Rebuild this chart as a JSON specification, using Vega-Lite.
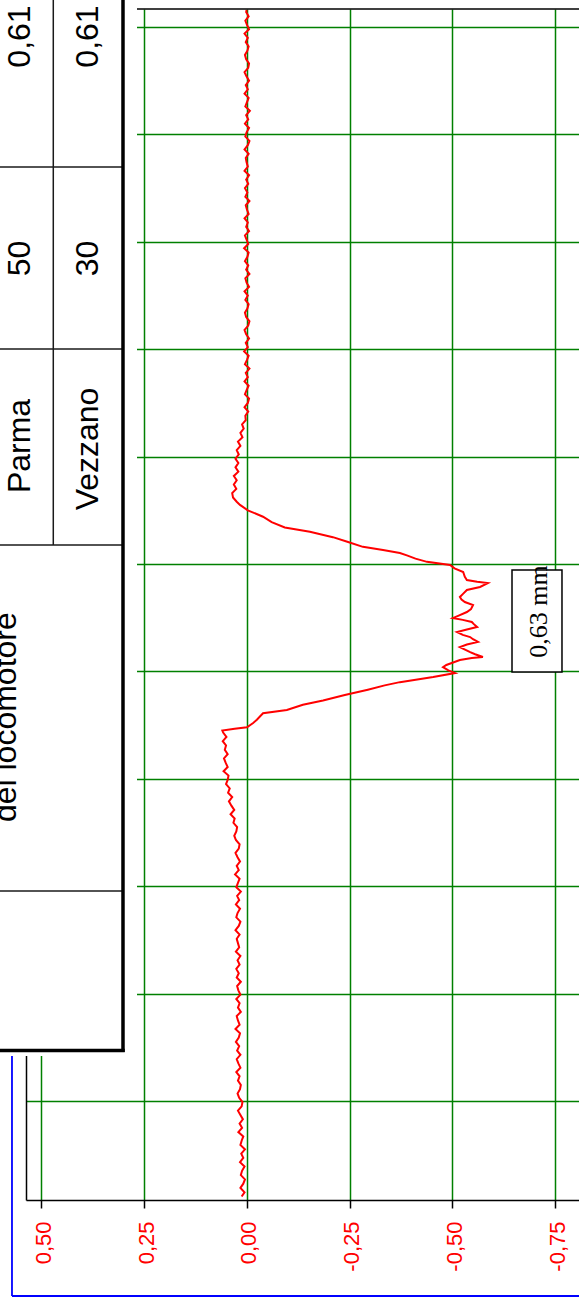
{
  "$schema": "https://vega.github.io/schema/vega-lite/v6.json",
  "width": 553,
  "height": 1191,
  "autosize": {"type": "none"},
  "padding": {"left": 26, "top": 9, "right": 0, "bottom": 103},
  "background": "white",
  "config": {"view": {"stroke": null}},
  "datasets": {
    "trace": [
      {"d":-89,"v":0.013},{"d":-85,"v":0.006},{"d":-81,"v":0.016},{"d":-77,"v":0.009},{"d":-73,"v":0.005},{"d":-69,"v":0.015},{"d":-65,"v":0.012},{"d":-61,"v":0.006},{"d":-57,"v":0.017},{"d":-53,"v":0.009},
      {"d":-49,"v":0.014},{"d":-45,"v":0.005},{"d":-41,"v":0.016},{"d":-37,"v":0.013},{"d":-33,"v":0.009},{"d":-29,"v":0.021},{"d":-25,"v":0.012},{"d":-21,"v":0.018},{"d":-17,"v":0.010},{"d":-13,"v":0.016},
      {"d":-9,"v":0.022},{"d":-5,"v":0.013},{"d":-1,"v":0.011},{"d":3,"v":0.019},{"d":7,"v":0.023},{"d":11,"v":0.017},{"d":15,"v":0.015},{"d":19,"v":0.022},{"d":23,"v":0.018},{"d":27,"v":0.026},
      {"d":31,"v":0.016},{"d":35,"v":0.021},{"d":39,"v":0.025},{"d":43,"v":0.016},{"d":47,"v":0.024},{"d":51,"v":0.019},{"d":55,"v":0.027},{"d":59,"v":0.020},{"d":63,"v":0.017},{"d":67,"v":0.028},
      {"d":71,"v":0.018},{"d":75,"v":0.022},{"d":79,"v":0.025},{"d":83,"v":0.015},{"d":87,"v":0.022},{"d":91,"v":0.018},{"d":95,"v":0.026},{"d":99,"v":0.016},{"d":103,"v":0.021},{"d":107,"v":0.024},
      {"d":111,"v":0.015},{"d":115,"v":0.025},{"d":119,"v":0.020},{"d":123,"v":0.026},{"d":127,"v":0.018},{"d":131,"v":0.023},{"d":135,"v":0.016},{"d":139,"v":0.027},{"d":143,"v":0.019},{"d":147,"v":0.022},
      {"d":151,"v":0.025},{"d":155,"v":0.018},{"d":159,"v":0.028},{"d":163,"v":0.020},{"d":167,"v":0.016},{"d":171,"v":0.026},{"d":175,"v":0.023},{"d":179,"v":0.017},{"d":183,"v":0.027},{"d":187,"v":0.019},
      {"d":191,"v":0.024},{"d":195,"v":0.015},{"d":199,"v":0.026},{"d":203,"v":0.022},{"d":207,"v":0.018},{"d":211,"v":0.029},{"d":215,"v":0.020},{"d":219,"v":0.025},{"d":223,"v":0.017},{"d":227,"v":0.023},
      {"d":231,"v":0.028},{"d":235,"v":0.020},{"d":239,"v":0.018},{"d":243,"v":0.027},{"d":247,"v":0.031},{"d":251,"v":0.026},{"d":255,"v":0.024},{"d":259,"v":0.033},{"d":263,"v":0.030},{"d":267,"v":0.040},
      {"d":271,"v":0.031},{"d":275,"v":0.038},{"d":279,"v":0.044},{"d":283,"v":0.036},{"d":287,"v":0.046},{"d":291,"v":0.042},{"d":295,"v":0.051},{"d":299,"v":0.047},{"d":303,"v":0.045},{"d":307,"v":0.057},
      {"d":311,"v":0.047},{"d":315,"v":0.052},{"d":319,"v":0.056},{"d":323,"v":0.047},{"d":327,"v":0.054},{"d":331,"v":0.051},{"d":335,"v":0.059},{"d":339,"v":0.050},{"d":343,"v":0.058},{"d":345,"v":0.060},
      {"d":346.5,"v":0.030},{"d":348,"v":0.000},{"d":352,"v":-0.015},{"d":355,"v":-0.024},{"d":361,"v":-0.039},{"d":364,"v":-0.097},{"d":369,"v":-0.136},{"d":373,"v":-0.185},{"d":378,"v":-0.238},{"d":383,"v":-0.294},
      {"d":387,"v":-0.335},{"d":390,"v":-0.372},{"d":394.8,"v":-0.453},{"d":398.5,"v":-0.506},{"d":401,"v":-0.490},{"d":404,"v":-0.477},{"d":406,"v":-0.485},{"d":410.6,"v":-0.518},{"d":412.5,"v":-0.547},{"d":413.4,"v":-0.574},
      {"d":416,"v":-0.555},{"d":418,"v":-0.543},{"d":422.7,"v":-0.518},{"d":425,"v":-0.535},{"d":427.4,"v":-0.562},{"d":430,"v":-0.550},{"d":432,"v":-0.543},{"d":434,"v":-0.525},{"d":436.7,"v":-0.511},{"d":439,"v":-0.535},
      {"d":441.3,"v":-0.560},{"d":444,"v":-0.552},{"d":446,"v":-0.547},{"d":448,"v":-0.525},{"d":449.7,"v":-0.501},{"d":452,"v":-0.515},{"d":455.3,"v":-0.535},{"d":458,"v":-0.545},{"d":461.8,"v":-0.550},{"d":464.6,"v":-0.530},
      {"d":467,"v":-0.522},{"d":469.3,"v":-0.518},{"d":472,"v":-0.525},{"d":475.8,"v":-0.535},{"d":478.6,"v":-0.567},{"d":482.3,"v":-0.586},{"d":483.5,"v":-0.560},{"d":485.1,"v":-0.535},{"d":488,"v":-0.530},{"d":492.6,"v":-0.526},
      {"d":496,"v":-0.505},{"d":499.1,"v":-0.494},{"d":502,"v":-0.438},{"d":505,"v":-0.410},{"d":508,"v":-0.389},{"d":510.2,"v":-0.372},{"d":513,"v":-0.331},{"d":516,"v":-0.282},{"d":520.5,"v":-0.246},{"d":525,"v":-0.209},
      {"d":530,"v":-0.153},{"d":534,"v":-0.092},{"d":539,"v":-0.060},{"d":544,"v":-0.039},{"d":550,"v":-0.002},{"d":555,"v":0.017},{"d":558,"v":0.025},{"d":562,"v":0.034},
      {"d":566,"v":0.036},{"d":570,"v":0.026},{"d":574,"v":0.032},{"d":578,"v":0.025},{"d":582,"v":0.032},{"d":586,"v":0.021},{"d":590,"v":0.028},{"d":594,"v":0.021},{"d":598,"v":0.028},{"d":602,"v":0.020},
      {"d":606,"v":0.025},{"d":610,"v":0.016},{"d":614,"v":0.022},{"d":618,"v":0.011},{"d":622,"v":0.016},{"d":626,"v":0.008},{"d":630,"v":0.012},{"d":634,"v":0.003},
      {"d":638,"v":0.004},{"d":642,"v":-0.003},{"d":646,"v":0.006},{"d":650,"v":-0.002},{"d":654,"v":-0.005},{"d":658,"v":0.005},{"d":662,"v":0.001},{"d":666,"v":-0.004},{"d":670,"v":0.006},{"d":674,"v":-0.002},
      {"d":678,"v":0.003},{"d":682,"v":-0.006},{"d":686,"v":0.005},{"d":690,"v":0.000},{"d":694,"v":-0.004},{"d":698,"v":0.007},{"d":702,"v":-0.002},{"d":706,"v":0.003},{"d":710,"v":-0.005},{"d":714,"v":0.002},
      {"d":718,"v":0.006},{"d":722,"v":-0.003},{"d":726,"v":-0.006},{"d":730,"v":0.002},{"d":734,"v":0.005},{"d":738,"v":-0.001},{"d":742,"v":-0.004},{"d":746,"v":0.004},{"d":750,"v":-0.002},{"d":754,"v":0.006},
      {"d":758,"v":-0.005},{"d":762,"v":0.001},{"d":766,"v":0.004},{"d":770,"v":-0.006},{"d":774,"v":0.002},{"d":778,"v":-0.003},{"d":782,"v":0.005},{"d":786,"v":-0.001},{"d":790,"v":-0.004},{"d":794,"v":0.007},
      {"d":798,"v":-0.003},{"d":802,"v":0.001},{"d":806,"v":0.005},{"d":810,"v":-0.005},{"d":814,"v":0.002},{"d":818,"v":-0.002},{"d":822,"v":0.006},{"d":826,"v":-0.004},{"d":830,"v":0.000},{"d":834,"v":0.003},
      {"d":838,"v":-0.006},{"d":842,"v":0.004},{"d":846,"v":-0.001},{"d":850,"v":0.005},{"d":854,"v":-0.003},{"d":858,"v":0.002},{"d":862,"v":-0.005},{"d":866,"v":0.006},{"d":870,"v":-0.002},{"d":874,"v":0.001},
      {"d":878,"v":0.003},{"d":882,"v":-0.004},{"d":886,"v":0.006},{"d":890,"v":-0.002},{"d":894,"v":-0.006},{"d":898,"v":0.004},{"d":902,"v":0.001},{"d":906,"v":-0.005},{"d":910,"v":0.005},{"d":914,"v":-0.003},
      {"d":918,"v":0.002},{"d":922,"v":-0.007},{"d":926,"v":0.004},{"d":930,"v":0.000},{"d":934,"v":-0.004},{"d":938,"v":0.006},{"d":942,"v":-0.002},{"d":946,"v":0.003},{"d":950,"v":-0.005},{"d":954,"v":0.001},
      {"d":958,"v":0.006},{"d":962,"v":-0.003},{"d":966,"v":-0.005},{"d":970,"v":0.002},{"d":974,"v":0.005},{"d":978,"v":-0.001},{"d":982,"v":-0.004},{"d":986,"v":0.003},{"d":990,"v":-0.002},{"d":994,"v":0.006},
      {"d":998,"v":-0.005},{"d":1002,"v":0.000},{"d":1006,"v":0.004},{"d":1010,"v":-0.004},{"d":1014,"v":0.002},{"d":1016,"v":0.001}
    ],
    "frame": [{"v":0.5377,"v2":-0.85,"d":1016.8,"d2":1016.8}],
    "blue": [
      {"v":0.5718,"v2":0.5718,"d":45,"d2":-181.6},
      {"v":0.5718,"v2":-0.85,"d":-181.6,"d2":-181.6}
    ],
    "cover": [{"v":0.62,"v2":0.2676,"d":1030,"d2":41.9}],
    "thin": [
      {"v":0.61,"v2":0.3017,"d":869.6,"d2":869.6},
      {"v":0.61,"v2":0.3017,"d":700.2,"d2":700.2},
      {"v":0.61,"v2":0.3017,"d":517.7,"d2":517.7},
      {"v":0.61,"v2":0.3017,"d":195.5,"d2":195.5},
      {"v":0.4713,"v2":0.4713,"d":1030,"d2":517.7}
    ],
    "thick": [
      {"v":0.3017,"v2":0.3017,"d":1030,"d2":45.5},
      {"v":0.61,"v2":0.2975,"d":47.0,"d2":47.0}
    ],
    "labels": [
      {"v":0.5511,"d":991.2,"t":"0,61"},
      {"v":0.3869,"d":991.2,"t":"0,61"},
      {"v":0.5511,"d":784.5,"t":"50"},
      {"v":0.3869,"d":784.5,"t":"30"},
      {"v":0.5511,"d":609.9,"t":"Parma"},
      {"v":0.3869,"d":607.1,"t":"Vezzano"},
      {"v":0.5871,"d":357.4,"t":"del locomotore"}
    ],
    "box": [{"v":-0.6448,"v2":-0.7664,"d":494.4,"d2":399.4}],
    "note": [{"v":-0.7299,"d":455.8,"t":"0,63 mm"}]
  },
  "layer": [
    {
      "data": {"name": "trace"},
      "mark": {"type": "line", "color": "#ff0000", "strokeWidth": 2},
      "encoding": {
        "x": {
          "field": "v", "type": "quantitative",
          "scale": {"domain": [-0.8078, 0.5377], "reverse": true, "nice": false, "zero": false},
          "axis": {
            "title": null,
            "values": [0.5, 0.25, 0, -0.25, -0.5, -0.75],
            "labelExpr": "(datum.value < 0 ? '-' : '') + replace(format(abs(datum.value), '.2f'), '.', ',')",
            "labelAngle": 270,
            "labelFont": "Liberation Sans",
            "labelFontSize": 22,
            "labelColor": "#ff0000",
            "labelPadding": 13,
            "labelOffset": 2,
            "labelFlush": false,
            "labelOverlap": false,
            "tickColor": "#000000",
            "tickSize": 8,
            "tickWidth": 1.5,
            "domainColor": "#000000",
            "domainWidth": 1.5,
            "grid": true,
            "gridColor": "#008000",
            "gridWidth": 1.5,
            "gridOpacity": 1,
            "zindex": 0
          }
        },
        "y": {
          "field": "d", "type": "quantitative",
          "scale": {"domain": [-92.2, 1016.8], "nice": false, "zero": false},
          "axis": {
            "title": null,
            "values": [0, 100, 200, 300, 400, 500, 600, 700, 800, 900, 1000],
            "labels": false,
            "ticks": false,
            "domainColor": "#000000",
            "domainWidth": 1.5,
            "grid": true,
            "gridColor": "#008000",
            "gridWidth": 1.5,
            "gridOpacity": 1,
            "zindex": 0
          }
        },
        "order": {"field": "d", "type": "quantitative"}
      }
    },
    {
      "data": {"name": "frame"},
      "mark": {"type": "rule", "color": "#000000", "strokeWidth": 1.5},
      "encoding": {
        "x": {"field": "v", "type": "quantitative"},
        "x2": {"field": "v2"},
        "y": {"field": "d", "type": "quantitative"},
        "y2": {"field": "d2"}
      }
    },
    {
      "data": {"name": "blue"},
      "mark": {"type": "rule", "color": "#0000ff", "strokeWidth": 1.8},
      "encoding": {
        "x": {"field": "v", "type": "quantitative"},
        "x2": {"field": "v2"},
        "y": {"field": "d", "type": "quantitative"},
        "y2": {"field": "d2"}
      }
    },
    {
      "data": {"name": "cover"},
      "mark": {"type": "rect", "fill": "#ffffff", "stroke": null},
      "encoding": {
        "x": {"field": "v", "type": "quantitative"},
        "x2": {"field": "v2"},
        "y": {"field": "d", "type": "quantitative"},
        "y2": {"field": "d2"}
      }
    },
    {
      "data": {"name": "thin"},
      "mark": {"type": "rule", "color": "#1a1a1a", "strokeWidth": 1.5},
      "encoding": {
        "x": {"field": "v", "type": "quantitative"},
        "x2": {"field": "v2"},
        "y": {"field": "d", "type": "quantitative"},
        "y2": {"field": "d2"}
      }
    },
    {
      "data": {"name": "thick"},
      "mark": {"type": "rule", "color": "#000000", "strokeWidth": 3.5},
      "encoding": {
        "x": {"field": "v", "type": "quantitative"},
        "x2": {"field": "v2"},
        "y": {"field": "d", "type": "quantitative"},
        "y2": {"field": "d2"}
      }
    },
    {
      "data": {"name": "labels"},
      "mark": {"type": "text", "angle": 270, "font": "Liberation Sans", "fontSize": 32, "color": "#000000", "baseline": "middle", "align": "center"},
      "encoding": {
        "x": {"field": "v", "type": "quantitative"},
        "y": {"field": "d", "type": "quantitative"},
        "text": {"field": "t"}
      }
    },
    {
      "data": {"name": "box"},
      "mark": {"type": "rect", "fill": "#ffffff", "stroke": "#000000", "strokeWidth": 1.5},
      "encoding": {
        "x": {"field": "v", "type": "quantitative"},
        "x2": {"field": "v2"},
        "y": {"field": "d", "type": "quantitative"},
        "y2": {"field": "d2"}
      }
    },
    {
      "data": {"name": "note"},
      "mark": {"type": "text", "angle": 270, "font": "Liberation Serif", "fontSize": 26, "color": "#000000", "baseline": "alphabetic", "align": "center"},
      "encoding": {
        "x": {"field": "v", "type": "quantitative"},
        "y": {"field": "d", "type": "quantitative"},
        "text": {"field": "t"}
      }
    }
  ]
}
